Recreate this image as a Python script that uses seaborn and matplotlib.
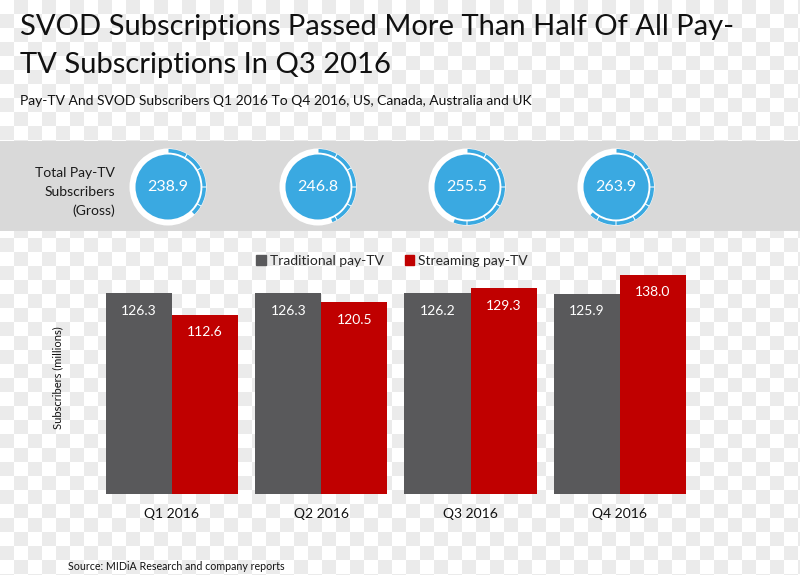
import numpy as np
import pandas as pd
import matplotlib
matplotlib.use("Agg")
import matplotlib.pyplot as plt
import seaborn as sns
from matplotlib.patches import Rectangle, Circle, Wedge, Patch
from matplotlib.colors import ListedColormap

# ---- data ----
quarters = ["Q1 2016", "Q2 2016", "Q3 2016", "Q4 2016"]
traditional = [126.3, 126.3, 126.2, 125.9]
streaming = [112.6, 120.5, 129.3, 138.0]
totals = [238.9, 246.8, 255.5, 263.9]
ring_share = [0.38, 0.44, 0.56, 0.62]
series_names = ["Traditional pay-TV", "Streaming pay-TV"]
title_lines = ["SVOD Subscriptions Passed More Than Half Of All Pay-",
               "TV Subscriptions In Q3 2016"]
subtitle = "Pay-TV And SVOD Subscribers Q1 2016 To Q4 2016, US, Canada, Australia and UK"
band_label = ["Total Pay-TV", "Subscribers", "(Gross)"]
source = "Source: MIDiA Research and company reports"

GREY = "#59595b"
RED = "#c00000"
BLUE = "#3aa9e1"

sns.set_theme(style="white")
plt.rcParams["font.family"] = ["Lato", "DejaVu Sans"]

W, H = 800, 575
fig = plt.figure(figsize=(8, 5.75), dpi=100)

# background checkerboard + band + circles, in pixel coordinates
bg = fig.add_axes([0, 0, 1, 1], zorder=0)
cell = 14
nx, ny = W // cell + 1, H // cell + 1
yy, xx = np.mgrid[0:ny, 0:nx]
checker = (xx + yy) % 2
bg.imshow(checker, cmap=ListedColormap(["#ffffff", "#ebebeb"]),
          extent=(0, nx * cell, ny * cell, 0), interpolation="nearest", aspect="auto")
bg.set_xlim(0, W)
bg.set_ylim(H, 0)
bg.axis("off")

bg.add_patch(Rectangle((0, 141), W, 90, color="#d9d9d9", lw=0))
centers_x = [168, 318, 467, 616]
cy = 187
for cx, tot, share in zip(centers_x, totals, ring_share):
    bg.add_patch(Circle((cx, cy), 38.5, color="white", lw=0))
    end = -90 + 360 * share
    a = -90.0
    while a < end - 0.5:
        b = min(a + 30, end)
        bg.add_patch(Wedge((cx, cy), 38, a + 0.8, b - 0.8, width=3.6, color=BLUE, lw=0))
        a += 30
    bg.add_patch(Circle((cx, cy), 32.5, color=BLUE, lw=0))
    bg.text(cx, cy, f"{tot:.1f}", color="white", ha="center", va="center", fontsize=11.5)

for txt, y in zip(band_label, [173, 192, 211]):
    bg.text(115, y, txt, ha="right", va="center", fontsize=10, color="#1a1a1a")

# texts
fig.text(20 / W, 1 - 35 / H, title_lines[0], fontsize=21, va="baseline", color="#111111")
fig.text(20 / W, 1 - 73 / H, title_lines[1], fontsize=21, va="baseline", color="#111111")
fig.text(20 / W, 1 - 105 / H, subtitle, fontsize=10, va="baseline", color="#111111")
fig.text(68 / W, 1 - 566 / H, source, fontsize=7.7, va="center", color="#111111")

# bar chart
ax = fig.add_axes([97.3 / W, (H - 494) / H, 597.3 / W, 238.4 / H], zorder=2)
df = pd.DataFrame({
    "quarter": quarters * 2,
    "series": [series_names[0]] * len(quarters) + [series_names[1]] * len(quarters),
    "value": traditional + streaming,
})
sns.barplot(data=df, x="quarter", y="value", hue="series", palette=[GREY, RED],
            width=0.886, gap=0, saturation=1, legend=False, linewidth=0, ax=ax)
ax.set_xlim(-0.5, 3.5)
ax.set_ylim(0, 150)
ax.patch.set_alpha(0)
for s in ax.spines.values():
    s.set_visible(False)
ax.set_yticks([])
ax.tick_params(axis="x", length=0, pad=10, labelsize=10, labelcolor="#111111")
ax.set_xlabel("")
ax.set_ylabel("Subscribers (millions)", fontsize=8, color="#111111")
ax.yaxis.set_label_coords(-0.057, 0.49)

for cont in ax.containers:
    for bar in cont:
        h = bar.get_height()
        ax.annotate(f"{h:.1f}", (bar.get_x() + bar.get_width() / 2, h),
                    xytext=(0, -12.5), textcoords="offset points",
                    ha="center", va="center", color="white", fontsize=10)

handles = [Patch(color=GREY), Patch(color=RED)]
fig.legend(handles, series_names, loc="center", bbox_to_anchor=(392 / W, 1 - 261 / H),
           ncol=2, frameon=False, fontsize=10, handlelength=0.7, handleheight=0.7,
           handletextpad=0.3, columnspacing=1.5)

fig.savefig("out.png", dpi=100)
